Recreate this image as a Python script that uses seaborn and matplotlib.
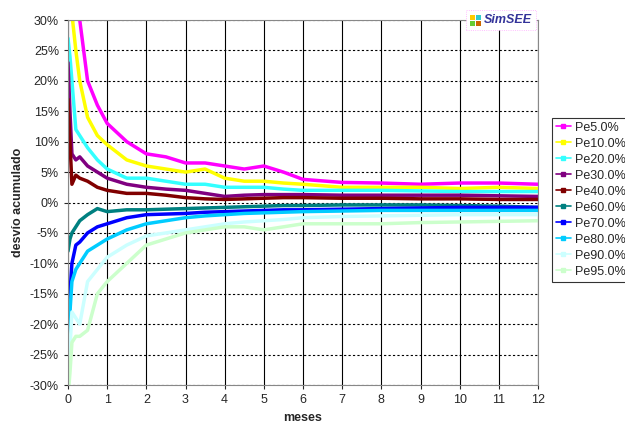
import seaborn as sns
import pandas as pd
import numpy as np
import matplotlib.pyplot as plt
from matplotlib.patches import Rectangle

# %% data (desvio acumulado, %)
meses = [0, 0.05, 0.1, 0.2, 0.3, 0.5, 0.75, 1, 1.5, 2, 2.5, 3, 3.5, 4, 4.5, 5, 5.5, 6, 7, 8, 9, 10, 11, 12]
pe5  = [45, 42, 38, 34, 30, 20, 16, 13, 10, 8, 7.5, 6.5, 6.5, 6, 5.5, 6, 5, 3.8, 3.3, 3.2, 3, 3.2, 3.2, 3]
pe10 = [40, 35, 31, 25, 20, 14, 11, 9.5, 7, 6, 5.5, 5, 5.5, 4, 3.5, 3.5, 3.2, 3, 2.5, 2.5, 2.5, 2.3, 2.5, 2.3]
pe20 = [27, 24, 20, 12, 11, 9, 7, 5.5, 4, 4, 3.5, 3, 3, 2.5, 2.5, 2.5, 2.2, 2, 2, 2, 1.9, 1.8, 1.8, 1.8]
pe30 = [23, 15, 8, 7, 7.5, 6, 5, 4, 3, 2.5, 2.2, 2, 1.5, 1, 1.2, 1.3, 1.3, 1.3, 1.2, 1.2, 1.2, 1.2, 1.1, 1]
pe40 = [17, 10, 3, 4.5, 4, 3.5, 2.5, 2, 1.5, 1.5, 1.2, 0.8, 0.6, 0.5, 0.6, 0.7, 0.8, 0.8, 0.7, 0.7, 0.6, 0.6, 0.5, 0.5]
pe60 = [-8, -6, -5, -4, -3, -2, -1, -1.5, -1.2, -1.2, -1.1, -1, -0.9, -0.8, -0.7, -0.6, -0.5, -0.5, -0.4, -0.4, -0.4, -0.5, -0.6, -0.8]
pe70 = [-25, -15, -10, -7, -6.5, -5, -4, -3.5, -2.5, -2, -1.9, -1.8, -1.6, -1.5, -1.4, -1.3, -1.2, -1.2, -1.1, -1, -0.9, -0.8, -0.8, -0.8]
pe80 = [-28, -18, -13, -11, -10, -8, -7, -6, -4.5, -3.5, -3, -2.5, -2.2, -2, -1.8, -1.7, -1.6, -1.5, -1.4, -1.3, -1.3, -1.3, -1.3, -1.3]
pe90 = [-30, -24, -18, -19, -20, -13, -11, -9, -7, -5.5, -5, -4.5, -4, -3.5, -3.2, -3, -2.8, -2.5, -2.3, -2.2, -2.1, -2, -2, -2]
pe95 = [-32, -28, -23, -22, -22, -21, -15, -13, -10, -7, -6, -5, -4.5, -4, -4, -4.5, -4, -3.5, -3.5, -3.5, -3.3, -3.2, -3.1, -3]

nombres = ["Pe5.0%", "Pe10.0%", "Pe20.0%", "Pe30.0%", "Pe40.0%",
           "Pe60.0%", "Pe70.0%", "Pe80.0%", "Pe90.0%", "Pe95.0%"]
series = [pe5, pe10, pe20, pe30, pe40, pe60, pe70, pe80, pe90, pe95]
colores = ["#ff00ff", "#ffff00", "#33ffff", "#800080", "#800000",
           "#008080", "#0000ff", "#00ccff", "#ccffff", "#ccffcc"]

rows = []
for n, s in zip(nombres, series):
    for m, v in zip(meses, s):
        rows.append((m, v, n))
df = pd.DataFrame(rows, columns=["meses", "desvio", "serie"])

# %% plot
sns.set_style("white")
plt.rcParams['font.family'] = ['Liberation Sans', 'DejaVu Sans']
fig = plt.figure(figsize=(6.25, 4.29), dpi=100)
ax = fig.add_axes([68/625, 1-385/429, 470/625, 365/429])

sns.lineplot(data=df, x="meses", y="desvio", hue="serie", palette=colores,
             hue_order=nombres, linewidth=2.5, ax=ax, legend=False)

ax.set_xlim(0, 12)
ax.set_ylim(-30, 30)
ax.set_xticks(range(0, 13))
ax.set_yticks(range(-30, 31, 5))
ax.set_yticklabels([f"{t}%" for t in range(-30, 31, 5)])
ax.tick_params(labelsize=9, length=3, direction="out", left=True, bottom=True)
ax.xaxis.grid(True, color="black", linewidth=0.8, linestyle="-")
ax.yaxis.grid(True, color="black", linewidth=0.8, linestyle=(0, (2, 2)))
for sp in ax.spines.values():
    sp.set_color("#888888")
ax.set_xlabel("meses", fontsize=9, fontweight="bold")
ax.set_ylabel("desvío acumulado", fontsize=9, fontweight="bold")

h = [plt.Line2D([], [], color=c, linewidth=1.2, marker="s", markersize=3) for c in colores]
leg = fig.legend(h, nombres, loc="upper left", bbox_to_anchor=(552/625, 1 - 118/429),
                 fontsize=9, frameon=True, fancybox=False, edgecolor="black",
                 borderaxespad=0, handlelength=1.2, handletextpad=0.3, labelspacing=0.32,
                 borderpad=0.3)
leg.get_frame().set_linewidth(0.8)

# SimSEE logo
fig.patches.append(Rectangle((466/625, 1-30/429), 70/625, 20/429, transform=fig.transFigure,
                             facecolor="white", edgecolor="#ffaaff", linewidth=0.6, linestyle=":"))
sq = [("#ffcc00", 470, 15), ("#33cccc", 476, 15), ("#66cc33", 470, 21), ("#cc6600", 476, 21)]
for c, x, y in sq:
    fig.patches.append(Rectangle((x/625, 1-(y+5)/429), 5/625, 5/429, transform=fig.transFigure,
                                 facecolor=c, edgecolor="none"))
fig.text(484/625, 1-20/429, "SimSEE", fontsize=9, fontweight="bold", fontstyle="italic",
         color="#333399", va="center")

plt.savefig("out.png", dpi=100)
